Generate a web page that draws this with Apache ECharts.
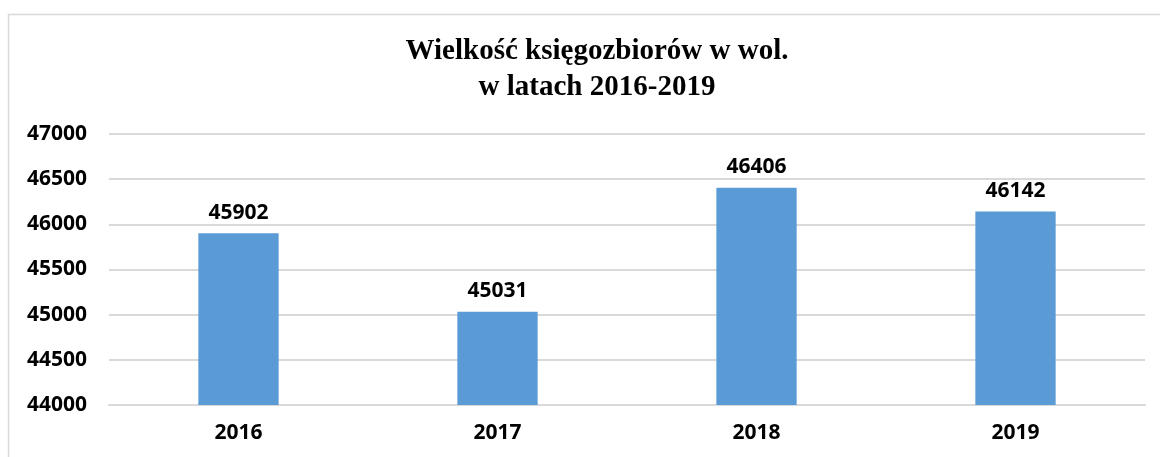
<!DOCTYPE html>
<html>
<head>
<meta charset="utf-8">
<script src="https://cdn.jsdelivr.net/npm/echarts@6/dist/echarts.min.js"></script>
<style>
  html, body { margin: 0; padding: 0; background: #fff; }
  #chart { width: 1160px; height: 457px; }
</style>
</head>
<body>
<div id="chart"></div>
<script>
// dane
var years = ["2016", "2017", "2018", "2019"];
var volumes = [45902, 45031, 46406, 46142];

var myChart = echarts.init(document.getElementById("chart"));

var labelFont = {
  fontFamily: "Open Sans",
  fontWeight: "bold",
  fontSize: 21,
  color: "#000"
};

var option = {
  animation: false,
  title: {
    text: "Wielkość księgozbiorów w wol.\nw latach 2016-2019",
    left: 592,
    top: 29,
    textAlign: "center",
    textStyle: {
      fontFamily: "Liberation Serif",
      fontWeight: "bold",
      fontSize: 29,
      lineHeight: 36,
      color: "#000"
    }
  },
  graphic: [
    {
      type: "rect",
      shape: { x: 8.5, y: 14.5, width: 1170, height: 460 },
      style: { fill: "none", stroke: "#d9d9d9", lineWidth: 1.5 }
    }
  ],
  grid: { left: 109, right: 15, top: 134, bottom: 52 },
  xAxis: {
    type: "category",
    data: years,
    axisLine: { lineStyle: { color: "#d9d9d9", width: 2 } },
    axisTick: { show: false },
    axisLabel: Object.assign({ margin: 18 }, labelFont)
  },
  yAxis: {
    type: "value",
    min: 44000,
    max: 47000,
    interval: 500,
    axisLine: { show: false },
    axisTick: { show: false },
    splitLine: { lineStyle: { color: "#d9d9d9", width: 2 } },
    axisLabel: Object.assign({
      margin: 22,
      formatter: function (v) { return String(v); }
    }, labelFont)
  },
  series: [
    {
      type: "bar",
      data: volumes,
      barWidth: "31%",
      itemStyle: { color: "#5b9bd5" },
      label: Object.assign({
        show: true,
        position: "top",
        distance: 10
      }, labelFont)
    }
  ]
};

myChart.setOption(option);
</script>
</body>
</html>
